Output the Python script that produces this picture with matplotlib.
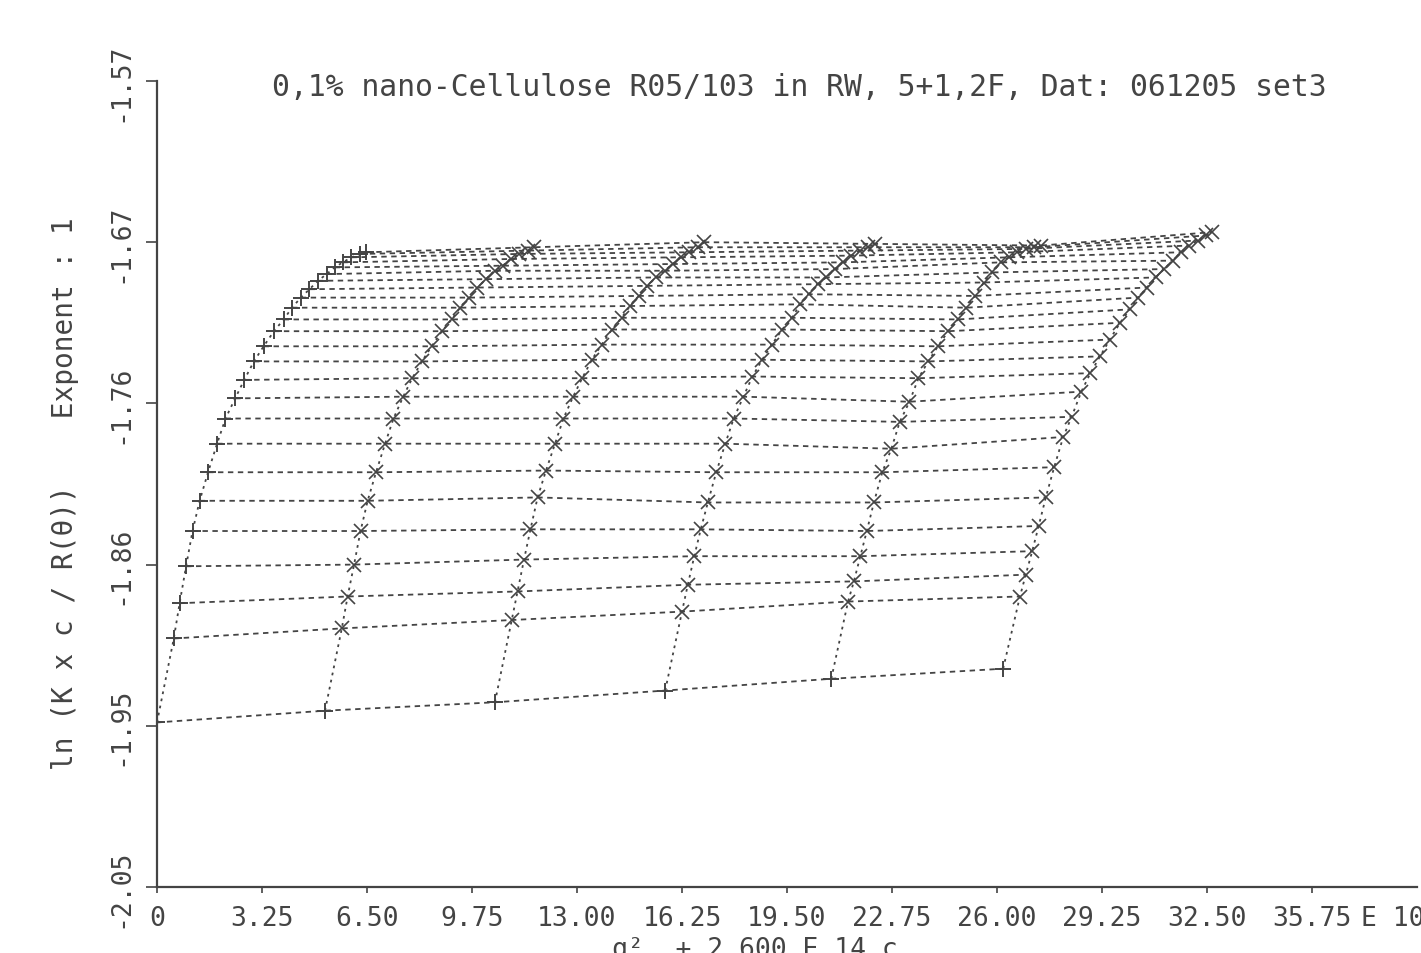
import matplotlib
matplotlib.use("Agg")
import matplotlib.pyplot as plt

# Zimm plot: x = q^2 + k*c, row 0 is the q=0 extrapolation
q2 = [0.0, 0.52, 0.70, 0.90, 1.10, 1.32, 1.58, 1.86, 2.12, 2.42, 2.70, 3.00, 3.30,
      3.62, 3.92, 4.18, 4.45, 4.72, 4.98, 5.25, 5.50, 5.75, 6.02, 6.28, 6.48]
conc_shift = [0.0, 5.20, 10.46, 15.73, 20.87, 26.19]

y_c0 = [-1.952, -1.902, -1.881, -1.859, -1.838, -1.820, -1.803, -1.786, -1.771, -1.759,
        -1.748, -1.737, -1.728, -1.719, -1.712, -1.705, -1.699, -1.694, -1.689, -1.685,
        -1.681, -1.678, -1.675, -1.673, -1.672]
y_c1 = [-1.945, -1.896, -1.877, -1.858, -1.838, -1.820, -1.803, -1.786, -1.771, -1.758,
        -1.747, -1.737, -1.728, -1.719, -1.712, -1.705, -1.699, -1.693, -1.688, -1.683,
        -1.680, -1.676, -1.673, -1.671, -1.669]
y_c2 = [-1.940, -1.891, -1.874, -1.855, -1.837, -1.818, -1.802, -1.786, -1.771, -1.758,
        -1.747, -1.736, -1.727, -1.718, -1.711, -1.704, -1.698, -1.692, -1.687, -1.683,
        -1.679, -1.675, -1.672, -1.669, -1.666]
y_c3 = [-1.933, -1.886, -1.870, -1.853, -1.837, -1.821, -1.803, -1.786, -1.771, -1.758,
        -1.746, -1.736, -1.727, -1.718, -1.711, -1.703, -1.697, -1.691, -1.687, -1.682,
        -1.678, -1.674, -1.671, -1.669, -1.667]
y_c4 = [-1.926, -1.880, -1.868, -1.853, -1.838, -1.821, -1.803, -1.789, -1.773, -1.761,
        -1.747, -1.737, -1.728, -1.719, -1.712, -1.705, -1.698, -1.690, -1.684, -1.678,
        -1.675, -1.672, -1.670, -1.669, -1.668]
y_c5 = [-1.920, -1.877, -1.864, -1.850, -1.835, -1.818, -1.800, -1.782, -1.770, -1.755,
        -1.744, -1.734, -1.724, -1.714, -1.706, -1.699, -1.693, -1.687, -1.682, -1.677,
        -1.672, -1.668, -1.665, -1.662, -1.660]
curves = [y_c0, y_c1, y_c2, y_c3, y_c4, y_c5]

xticks = [0, 3.25, 6.50, 9.75, 13.00, 16.25, 19.50, 22.75, 26.00, 29.25, 32.50, 35.75]
xticklabels = ["0", "3.25", "6.50", "9.75", "13.00", "16.25", "19.50", "22.75",
               "26.00", "29.25", "32.50", "35.75"]
yticks = [-2.05, -1.954, -1.858, -1.762, -1.666, -1.57]
yticklabels = ["-2.05", "-1.95", "-1.86", "-1.76", "-1.67", "-1.57"]

title = "0,1% nano-Cellulose R05/103 in RW, 5+1,2F, Dat: 061205 set3"
ylabel = "ln (K x c / R(\u03b8))    Exponent : 1"
xlabel = "q\u00b2  + 2.600 E 14 c"

ink = "#444444"
plt.rcParams["font.family"] = ["DejaVu Sans Mono", "DejaVu Sans"]

fig = plt.figure(figsize=(14.21, 9.54), dpi=100)
ax = fig.add_axes([157 / 1421, 1 - 888 / 954, 1260 / 1421, (888 - 82) / 954])

# angle lines (constant q^2, across concentrations)
for r in range(len(q2)):
    xs = [q2[r] + s for s in conc_shift]
    ys = [c[r] for c in curves]
    ax.plot(xs, ys, color=ink, lw=1.3, ls=(0, (3, 2.5)))

# concentration curves
for i, s in enumerate(conc_shift):
    xs = [q + s for q in q2]
    ys = curves[i]
    ax.plot(xs, ys, color=ink, lw=1.3, ls=(0, (1.5, 2.5)))
    if i == 0:
        ax.plot(xs, ys, ls="none", marker="+", ms=12, mew=1.4, color=ink)
    else:
        ax.plot(xs[:1], ys[:1], ls="none", marker="+", ms=12, mew=1.4, color=ink)
        ax.plot(xs[1:], ys[1:], ls="none", marker="x", ms=10, mew=1.2, color=ink)

ax.set_xlim(0, 39)
ax.set_ylim(-2.05, -1.57)
for side in ["top", "right"]:
    ax.spines[side].set_visible(False)
for side in ["left", "bottom"]:
    ax.spines[side].set_color(ink)
    ax.spines[side].set_linewidth(1.6)

ax.set_xticks(xticks)
ax.set_xticklabels(xticklabels)
ax.set_yticks(yticks)
ax.set_yticklabels(yticklabels, rotation=90, va="center")
ax.tick_params(axis="x", direction="out", length=4, width=1.2, pad=9,
               labelsize=19, colors=ink)
ax.tick_params(axis="y", direction="out", length=8, width=1.2, pad=9,
               labelsize=19, colors=ink)

ax.annotate("E 10", xy=(35.75, 0), xycoords=("data", "axes fraction"),
            xytext=(35, -13), textcoords="offset points", ha="left", va="top",
            fontsize=19, color=ink)

fig.text(799 / 1421, 1 - 88 / 954, title, ha="center", va="center",
         fontsize=21.4, color=ink)
fig.text(65 / 1421, 1 - 494 / 954, ylabel, ha="center", va="center",
         rotation=90, fontsize=20, color=ink)
fig.text(612 / 1421, 1 - 937 / 954, xlabel, ha="left", va="top",
         fontsize=19, color=ink)

fig.savefig("out.png", dpi=100)
